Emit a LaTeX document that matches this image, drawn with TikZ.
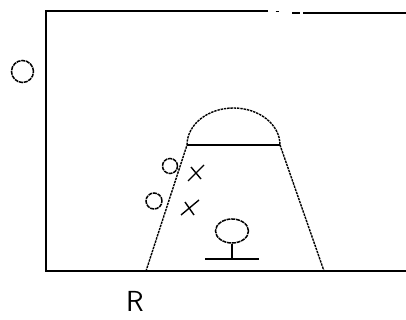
\documentclass[tikz,border=0pt]{standalone}
\usetikzlibrary{shapes.geometric,calc}
\begin{document}
\begin{tikzpicture}[x=1pt,y=-1pt,
  frame/.style={line width=1.7pt},
  dsh/.style={line width=1.4pt, dash pattern=on 2.4pt off 0.9pt},
  thin/.style={line width=1.4pt},
  ring/.style={line width=1.5pt, dash pattern=on 4pt off 0.8pt}]
\useasboundingbox (0,0) rectangle (406,320);
% frame
\coordinate (tl) at (46,11);
\coordinate (bl) at (46,271);
\coordinate (br) at (406,271);
\coordinate (t1) at (268,11);
\coordinate (d1a) at (275.5,11.5);
\coordinate (d1b) at (278.5,11.5);
\coordinate (d2a) at (292,13);
\coordinate (d2b) at (300,13);
\coordinate (t2) at (303,13);
\coordinate (tr) at (406,13);
\draw[frame] (t1) -- (tl) -- (bl) -- (br);
\draw[frame] (d1a) -- (d1b);
\draw[frame] (d2a) -- (d2b);
\draw[frame] (t2) -- (tr);
% trapezoid with dome
\coordinate (a) at (146,271);
\coordinate (b) at (187,145);
\coordinate (c) at (280,145);
\coordinate (d) at (324,271);
\draw[dsh] (a) -- (b);
\draw[dsh] (c) -- (d);
\draw[thin] (b) -- (c);
\draw[dsh] (b) arc[start angle=180, end angle=360, x radius=46.5, y radius=37];
% left big circle
\node[draw, ring, circle, minimum size=22pt, inner sep=0pt] (o1) at (22.5,71.5) {};
% small circles
\node[draw, ring, ellipse, minimum width=15pt, minimum height=15pt, inner sep=0pt] (c1) at (170,166) {};
\node[draw, ring, circle, minimum size=16pt, inner sep=0pt] (c2) at (154,201) {};
% crosses
\coordinate (x1) at (196,173);
\coordinate (x2) at (190,208);
\draw[thin] ($(x1)+(-8,8)$) -- ($(x1)+(8,-8)$) ($(x1)+(-5,-6)$) -- ($(x1)+(5,6)$);
\draw[thin] ($(x2)+(-9,7)$) -- ($(x2)+(9,-8)$) ($(x2)+(-5,-6)$) -- ($(x2)+(4,7)$);
% tree symbol
\node[draw, ring, ellipse, minimum width=33pt, minimum height=24pt, inner sep=0pt] (t) at (232,231) {};
\coordinate (g) at (232,259);
\coordinate (gl) at (205,259);
\coordinate (gr) at (259,259);
\draw[thin] (t.south) -- (g);
\draw[thin] (gl) -- (gr);
% label R
\node[font=\sffamily\fontsize{29}{30}\selectfont, inner sep=0pt] (r) at (135,301) {R};
\end{tikzpicture}
\end{document}
